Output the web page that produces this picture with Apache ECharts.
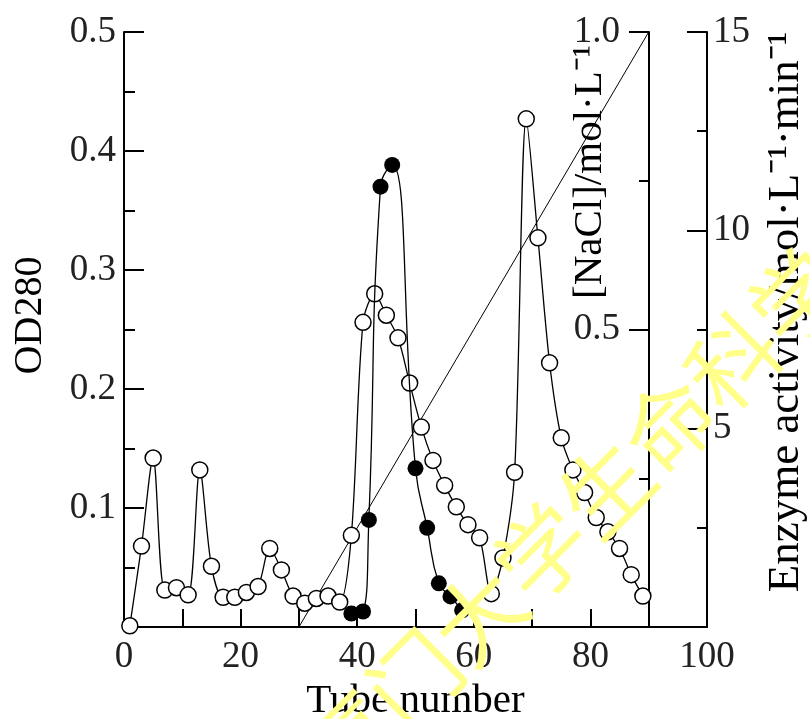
<!DOCTYPE html>
<html><head><meta charset="utf-8">
<script src="https://cdn.jsdelivr.net/npm/echarts@6/dist/echarts.min.js"></script>
<style>html,body{margin:0;padding:0;background:#fff}#c{width:810px;height:719px}</style>
</head><body><div id="c"></div>
<script>
// ---- data ----
const odTubes = [1,3,5,7,9,11,13,15,17,19,21,23,25,27,29,31,33,35,37,39,41,43,45,47,49,51,53,55,57,59,61,63,65,67,69,71,73,75,77,79,81,83,85,87,89];
const odValues = [0.001,0.068,0.142,0.031,0.033,0.027,0.132,0.051,0.025,0.025,0.029,0.034,0.066,0.048,0.026,0.020,0.024,0.026,0.021,0.077,0.256,0.280,0.262,0.243,0.205,0.168,0.140,0.119,0.101,0.086,0.075,0.028,0.058,0.130,0.427,0.327,0.222,0.159,0.132,0.113,0.092,0.080,0.066,0.044,0.026];
const activityTubes = [39,41,42,44,46,50,52,54,56,58];
const activityValues = [0.34,0.39,2.7,11.1,11.65,4.0,2.5,1.1,0.77,0.42];
const naclTubes = [30,90];
const naclValues = [0,1.0];
const xTickLabels = [0,20,40,60,80,100];
const odTickLabels = [0.1,0.2,0.3,0.4,0.5];
const naclTickLabels = [0.5,1.0];
const activityTickLabels = [5,10,15];

const FONT = 'Liberation Serif';
const zip = (xs, ys) => xs.map((x, i) => [x, ys[i]]);
const near = (arr, v) => arr.some(a => Math.abs(a - v) < 1e-6);

const axisCommon = {
  axisLine: {show: true, lineStyle: {color: '#000', width: 2}},
  splitLine: {show: false},
};

const chart = echarts.init(document.getElementById('c'));
chart.setOption({
  animation: false,
  backgroundColor: '#fff',
  grid: {left: 124, right: 103, top: 32, bottom: 92, containLabel: false, outerBoundsMode: 'none'},
  xAxis: {
    type: 'value', min: 0, max: 100, interval: 10,
    ...axisCommon,
    axisTick: {show: true, inside: true, length: 18, lineStyle: {color: '#000', width: 2}},
    axisLabel: {formatter: v => near(xTickLabels, v) ? String(v) : '', fontFamily: FONT, fontSize: 37, color: '#222', margin: 12},
    name: 'Tube number', nameLocation: 'middle', nameGap: 53,
    nameTextStyle: {fontFamily: FONT, fontSize: 41, color: '#000'}
  },
  yAxis: [
    {
      type: 'value', position: 'left', min: 0, max: 0.5, interval: 0.1,
      ...axisCommon,
      axisTick: {show: true, inside: true, length: 20, lineStyle: {color: '#000', width: 2}},
      minorTick: {show: true, splitNumber: 2, length: 11, lineStyle: {color: '#000', width: 2}},
      axisLabel: {formatter: v => near(odTickLabels, v) ? v.toFixed(1) : '', fontFamily: FONT, fontSize: 37, color: '#222', margin: 8},
      name: 'OD280', nameLocation: 'middle', nameRotate: 90, nameGap: 74,
      nameTextStyle: {fontFamily: FONT, fontSize: 40, color: '#000', padding: [0, 0, 0, 28]}
    },
    {
      type: 'value', position: 'right', offset: -58, min: 0, max: 1.0, interval: 0.5,
      ...axisCommon,
      axisTick: {show: true, inside: true, length: 20, lineStyle: {color: '#000', width: 2}},
      minorTick: {show: true, splitNumber: 2, length: 10, lineStyle: {color: '#000', width: 2}},
      axisLabel: {inside: true, formatter: v => near(naclTickLabels, v) ? v.toFixed(1) : '', fontFamily: FONT, fontSize: 37, color: '#222', margin: 29}
    },
    {
      type: 'value', position: 'right', offset: 0, min: 0, max: 15, interval: 5,
      ...axisCommon,
      axisTick: {show: true, inside: true, length: 20, lineStyle: {color: '#000', width: 2}},
      minorTick: {show: true, splitNumber: 2, length: 10, lineStyle: {color: '#000', width: 2}},
      axisLabel: {formatter: v => near(activityTickLabels, v) ? String(v) : '', fontFamily: FONT, fontSize: 37, color: '#222', margin: 6}
    }
  ],
  graphic: [
    {type: 'text', x: 590, y: 172, rotation: Math.PI / 2, z: 50,
     style: {text: '[NaCl]/mol·L⁻¹', font: '41px "Liberation Serif"', fill: '#000', align: 'center', verticalAlign: 'middle', textAlign: 'center', textVerticalAlign: 'middle'}},
    {type: 'text', x: 786, y: 312, rotation: Math.PI / 2, z: 50,
     style: {text: 'Enzyme activity/mol·L⁻¹·min⁻¹', font: '45px "Liberation Serif"', fill: '#000', align: 'center', verticalAlign: 'middle', textAlign: 'center', textVerticalAlign: 'middle'}},
    {type: 'text', x: 574, y: 520, rotation: Math.PI / 4, z: 100,
     style: {text: '厦门大学生命科学', font: '90px "Noto Sans CJK SC"', fill: '#ffff8a', align: 'center', verticalAlign: 'middle', textAlign: 'center', textVerticalAlign: 'middle'}}
  ],
  series: [
    {
      name: 'NaCl', type: 'line', xAxisIndex: 0, yAxisIndex: 1,
      data: zip(naclTubes, naclValues), symbol: 'none',
      lineStyle: {color: '#000', width: 1}, z: 2
    },
    {
      name: 'OD280', type: 'line', xAxisIndex: 0, yAxisIndex: 0,
      data: zip(odTubes, odValues), smooth: 0.3,
      symbol: 'circle', symbolSize: 16,
      itemStyle: {color: '#fff', borderColor: '#000', borderWidth: 1.5},
      lineStyle: {color: '#000', width: 1.3}, z: 3
    },
    {
      name: 'Enzyme activity', type: 'line', xAxisIndex: 0, yAxisIndex: 2,
      data: zip(activityTubes, activityValues), smooth: 0.5,
      symbol: 'circle', symbolSize: 16,
      itemStyle: {color: '#000'},
      lineStyle: {color: '#000', width: 1.3}, z: 4
    }
  ]
});
</script></body></html>
